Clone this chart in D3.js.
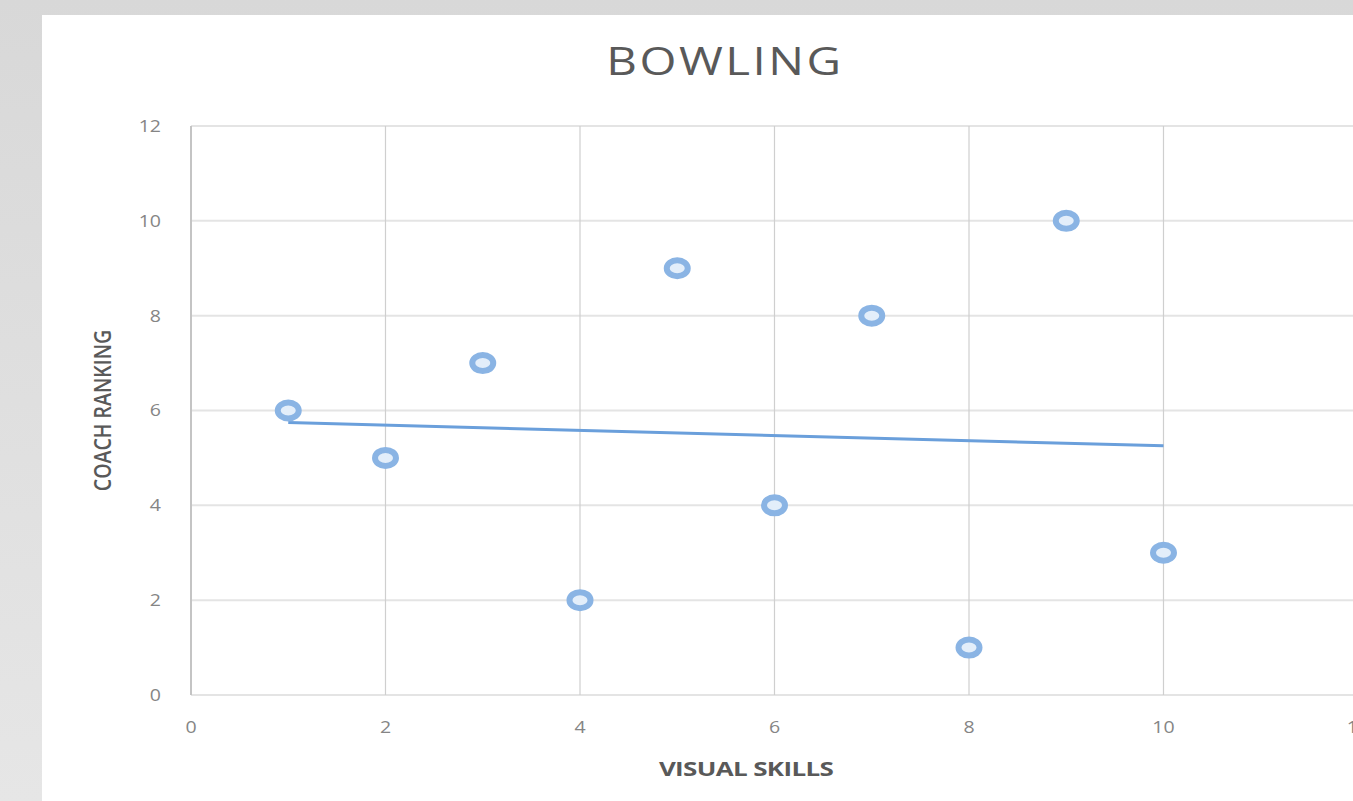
<!DOCTYPE html>
<html>
<head>
<meta charset="utf-8">
<script src="https://cdn.jsdelivr.net/npm/d3@7"></script>
<style>
  body { margin: 0; background: #dedede; overflow: hidden; }
  text { font-family: "Open Sans", "Noto Sans", sans-serif; }
</style>
</head>
<body>
<div id="chart"></div>
<script>
var w = 1353;
var h = 801;

// data
var visualSkills = [1, 2, 3, 4, 5, 6, 7, 8, 9, 10];
var coachRanking = [6, 5, 7, 2, 9, 4, 8, 1, 10, 3];
var xTicks = [0, 2, 4, 6, 8, 10, 12];
var yTicks = [0, 2, 4, 6, 8, 10, 12];

var svg = d3.select("#chart")
    .append("svg")
    .attr("width", w)
    .attr("height", h);

// grey slide background + white card
var bg = svg.append("defs").append("linearGradient")
    .attr("id", "bgGrad")
    .attr("x1", 0).attr("y1", 0).attr("x2", 0).attr("y2", 1);
bg.append("stop").attr("offset", "0%").attr("stop-color", "#d8d8d8");
bg.append("stop").attr("offset", "100%").attr("stop-color", "#e6e6e6");

svg.append("rect")
    .attr("width", w).attr("height", h)
    .attr("fill", "url(#bgGrad)");

svg.append("rect")
    .attr("x", 42).attr("y", 15)
    .attr("width", w - 42).attr("height", h - 15)
    .attr("fill", "#ffffff");

var x = d3.scaleLinear()
    .domain([0, 12])
    .range([191, 1358]);

var y = d3.scaleLinear()
    .domain([0, 12])
    .range([695, 126]);

// gridlines
svg.selectAll(".hgrid")
    .data(yTicks)
    .enter()
    .append("line")
    .attr("class", "hgrid")
    .attr("x1", x(0)).attr("x2", x(12))
    .attr("y1", function(d) { return y(d); })
    .attr("y2", function(d) { return y(d); })
    .attr("stroke", "#e4e4e4")
    .attr("stroke-width", 2);

svg.selectAll(".vgrid")
    .data(xTicks.filter(function(d) { return d > 0; }))
    .enter()
    .append("line")
    .attr("class", "vgrid")
    .attr("x1", function(d) { return x(d); })
    .attr("x2", function(d) { return x(d); })
    .attr("y1", y(12)).attr("y2", y(0))
    .attr("stroke", "#cfcfcf")
    .attr("stroke-width", 1.2);

// left axis line
svg.append("line")
    .attr("x1", x(0)).attr("x2", x(0))
    .attr("y1", y(12)).attr("y2", y(0))
    .attr("stroke", "#c4c4c4")
    .attr("stroke-width", 2);

// tick labels
svg.selectAll(".ylab")
    .data(yTicks)
    .enter()
    .append("text")
    .attr("class", "ylab")
    .attr("transform", function(d) { return "translate(161," + y(d) + ") scale(1.15,1)"; })
    .attr("dy", "0.35em")
    .attr("text-anchor", "end")
    .attr("fill", "#858585")
    .attr("font-size", 17)
    .text(function(d) { return d; });

svg.selectAll(".xlab")
    .data(xTicks)
    .enter()
    .append("text")
    .attr("class", "xlab")
    .attr("transform", function(d) { return "translate(" + x(d) + ",727) scale(1.15,1)"; })
    .attr("dy", "0.35em")
    .attr("text-anchor", "middle")
    .attr("fill", "#858585")
    .attr("font-size", 17)
    .text(function(d) { return d; });

// titles
svg.append("text")
    .attr("transform", "translate(725,62) scale(1.25,1)")
    .attr("dy", "0.35em")
    .attr("text-anchor", "middle")
    .attr("fill", "#595959")
    .attr("font-size", 38)
    .attr("letter-spacing", 2)
    .text("BOWLING");

svg.append("text")
    .attr("transform", "translate(746,769) scale(1.3,1)")
    .attr("dy", "0.35em")
    .attr("text-anchor", "middle")
    .attr("fill", "#595959")
    .attr("font-size", 20)
    .attr("font-weight", "bold")
    .attr("letter-spacing", -0.5)
    .text("VISUAL SKILLS");

svg.append("text")
    .attr("transform", "translate(103," + y(6) + ") rotate(-90) scale(0.85,1)")
    .attr("dy", "0.35em")
    .attr("text-anchor", "middle")
    .attr("fill", "#595959")
    .attr("font-size", 23)
    .attr("font-weight", 600)
    .text("COACH RANKING");

// linear trendline (least squares)
var mx = d3.mean(visualSkills);
var my = d3.mean(coachRanking);
var sxy = d3.sum(visualSkills, function(v, i) { return (v - mx) * (coachRanking[i] - my); });
var sxx = d3.sum(visualSkills, function(v) { return (v - mx) * (v - mx); });
var slope = sxy / sxx;
var intercept = my - slope * mx;
var xr = d3.extent(visualSkills);

svg.append("line")
    .attr("x1", x(xr[0]))
    .attr("y1", y(intercept + slope * xr[0]))
    .attr("x2", x(xr[1]))
    .attr("y2", y(intercept + slope * xr[1]))
    .attr("stroke", "#6a9fdb")
    .attr("stroke-width", 3);

// markers
svg.selectAll(".pt")
    .data(visualSkills)
    .enter()
    .append("ellipse")
    .attr("class", "pt")
    .attr("cx", function(d) { return x(d); })
    .attr("cy", function(d, i) { return y(coachRanking[i]); })
    .attr("rx", 10.5)
    .attr("ry", 8)
    .attr("fill", "#e3eefa")
    .attr("stroke", "#8ab4e4")
    .attr("stroke-width", 6);
</script>
</body>
</html>
